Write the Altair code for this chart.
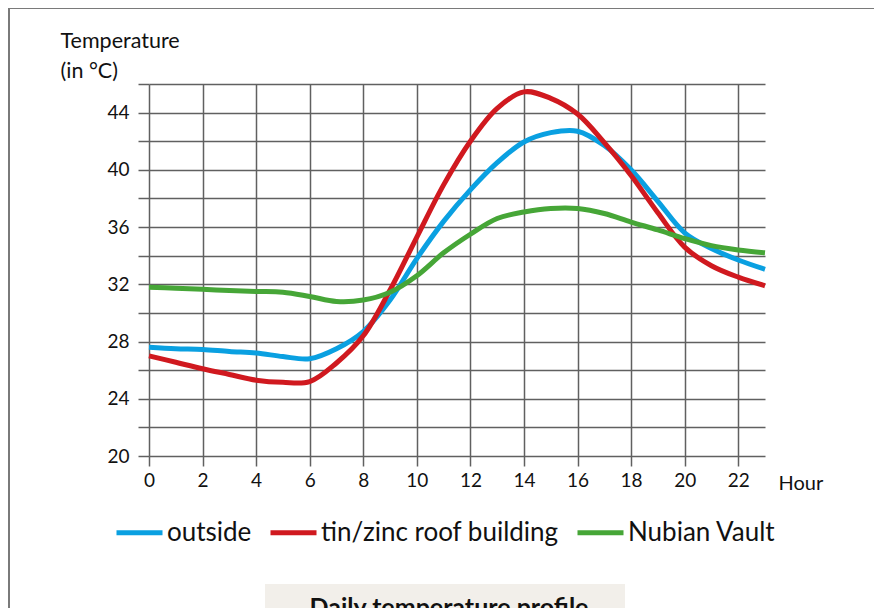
import altair as alt
import pandas as pd

hours = list(range(0, 24))
outside = [27.6, 27.5, 27.45, 27.3, 27.2, 26.95, 26.8, 27.5, 28.7, 30.9, 33.8, 36.4,
           38.6, 40.5, 41.95, 42.6, 42.7, 41.7, 40.0, 37.8, 35.6, 34.5, 33.7, 33.05]
tin_roof = [27.0, 26.55, 26.1, 25.7, 25.3, 25.15, 25.2, 26.5, 28.4, 31.6, 35.3, 38.95,
            42.0, 44.3, 45.45, 45.0, 43.9, 41.9, 39.6, 37.0, 34.6, 33.3, 32.5, 31.9]
nubian = [31.8, 31.72, 31.65, 31.57, 31.5, 31.45, 31.15, 30.8, 30.9, 31.45, 32.6, 34.2,
          35.5, 36.6, 37.05, 37.3, 37.3, 36.95, 36.35, 35.8, 35.2, 34.7, 34.4, 34.2]

series_names = ["outside", "tin/zinc roof building", "Nubian Vault"]
series_colors = ["#0aa0e1", "#d0191f", "#46a637"]
x_ticks = list(range(0, 23, 2))
y_ticks = list(range(20, 47, 2))
caption_text = "Daily temperature profile"

rows = []
for name, vals in zip(series_names, [outside, tin_roof, nubian]):
    for h, v in zip(hours, vals):
        rows.append({"hour": h, "temp": v, "series": name})
df = pd.DataFrame(rows)

FONT = "Lato"
GRID = "#606060"
TXT = "#111111"

lines = alt.Chart(df).mark_line(strokeWidth=5, interpolate="catmull-rom").encode(
    x=alt.X("hour:Q",
            scale=alt.Scale(domain=[0, 23], nice=False, zero=False),
            axis=alt.Axis(values=x_ticks, grid=True, domain=False, tickSize=10,
                          labelFontSize=19, labelPadding=5, labelFont=FONT,
                          labelColor=TXT, labelFlush=False,
                          title="Hour", titleFont=FONT, titleFontSize=20,
                          titleFontWeight="normal", titleColor=TXT,
                          titleAlign="left", titleBaseline="middle",
                          titleX=629, titleY=27)),
    y=alt.Y("temp:Q",
            scale=alt.Scale(domain=[20, 46], nice=False, zero=False),
            axis=alt.Axis(values=y_ticks, grid=True, domain=False, tickSize=11,
                          labelExpr="datum.value % 4 == 0 ? datum.label : ''",
                          labelFontSize=19, labelPadding=9, labelFont=FONT,
                          labelColor=TXT,
                          title=["Temperature", "(in °C)"], titleFont=FONT,
                          titleFontSize=21.5, titleFontWeight="normal",
                          titleColor=TXT, titleAngle=0, titleAlign="left",
                          titleBaseline="alphabetic", titleLineHeight=30,
                          titleX=-89, titleY=-37)),
    color=alt.Color("series:N",
                    scale=alt.Scale(domain=series_names, range=series_colors),
                    sort=series_names,
                    legend=alt.Legend(title=None, orient="none", direction="horizontal",
                                      legendX=-35, legendY=423, symbolType="stroke",
                                      symbolSize=2116, symbolStrokeWidth=5,
                                      labelFontSize=26, labelFont=FONT,
                                      labelColor=TXT, labelOffset=2,
                                      columnPadding=8, labelLimit=400)),
)

frame = alt.Chart(pd.DataFrame({"k": [0]})).mark_rect(
    fill=None, stroke="#7a7a7a", strokeWidth=2
).encode(x=alt.value(-140), x2=alt.value(800), y=alt.value(-76), y2=alt.value(700))

box = alt.Chart(pd.DataFrame({"k": [0]})).mark_rect(fill="#f2efea").encode(
    x=alt.value(116), x2=alt.value(476), y=alt.value(500), y2=alt.value(560))

caption = alt.Chart(pd.DataFrame({"t": [caption_text]})).mark_text(
    font=FONT, fontSize=25, fontWeight="bold", color=TXT, baseline="alphabetic",
    align="center").encode(x=alt.value(300), y=alt.value(532), text="t:N")

chart = alt.layer(frame, box, caption, lines).properties(
    width=616, height=372,
    autosize=alt.AutoSizeParams(type="none"),
    padding={"left": 141, "top": 76, "right": 109, "bottom": 152},
).configure(font=FONT).configure_view(stroke=None).configure_axis(
    gridColor=GRID, gridWidth=1.5, gridOpacity=1, tickColor=GRID, tickWidth=1.5
)

chart.save("out.html", embed_options={"renderer": "svg", "actions": False})
